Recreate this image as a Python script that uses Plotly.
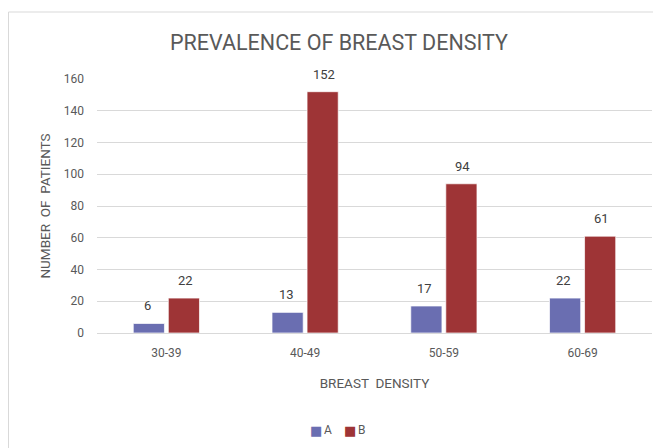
import plotly.graph_objects as go

# Data
categories = ["30-39", "40-49", "50-59", "60-69"]
series_a = [6, 13, 17, 22]
series_b = [22, 152, 94, 61]
series_names = ["A", "B"]
y_ticks = [0, 20, 40, 60, 80, 100, 120, 140, 160]

COLORS = {"A": "#6A6EB1", "B": "#9E3436", "text": "#595959", "grid": "#D9D9D9"}
FONT = "Roboto, Arial, sans-serif"

# the page body has an 8px margin, so the figure is laid out 8px up/left
L, T, R, B = 89, 71, 17, 123
pw, ph = 661 - L - R, 254

fig = go.Figure()
for name, vals in zip(series_names, (series_a, series_b)):
    fig.add_trace(go.Bar(
        x=categories, y=vals, name=name, showlegend=False,
        marker=dict(color=COLORS[name], line=dict(color="rgba(255,255,255,0.7)", width=1)),
    ))

# value labels above the bars
for i, vals in enumerate((series_a, series_b)):
    for cat, v in zip(categories, vals):
        fig.add_annotation(
            x=cat, y=v, text=str(v), showarrow=False,
            xshift=-19 if i == 0 else 19, yshift=8, yanchor="bottom",
            font=dict(size=13, color="#404040", family=FONT),
        )

# compact legend like the original: coloured square followed by the name
leg_y = (T + ph - 422) / ph
for i, n in enumerate(series_names):
    x0 = (308 + 34 * i - L) / pw
    fig.add_annotation(xref="paper", yref="paper", x=x0, y=leg_y, text="■",
                       showarrow=False, xanchor="center", yanchor="middle",
                       font=dict(size=13, color=COLORS[n], family="DejaVu Sans"))
    fig.add_annotation(xref="paper", yref="paper", x=x0, y=leg_y, text=n,
                       showarrow=False, xanchor="left", yanchor="middle", xshift=6,
                       font=dict(size=12, color=COLORS["text"], family=FONT))

# chart area border (top and left edges visible)
fig.add_shape(type="line", xref="paper", yref="paper",
              x0=(0.5 - L) / pw, x1=1.2, y0=(T + ph - 4) / ph, y1=(T + ph - 4) / ph,
              line=dict(color=COLORS["grid"], width=1))
fig.add_shape(type="line", xref="paper", yref="paper",
              x0=(0.5 - L) / pw, x1=(0.5 - L) / pw, y0=(T + ph - 4) / ph, y1=-0.6,
              line=dict(color=COLORS["grid"], width=1))

fig.update_layout(
    width=661, height=448,
    barmode="group", bargap=0.495, bargroupgap=0.11,
    paper_bgcolor="white", plot_bgcolor="white",
    margin=dict(t=T, b=B, l=L, r=R, autoexpand=False),
    font=dict(family=FONT, color=COLORS["text"], size=12),
    title=dict(text="PREVALENCE OF BREAST DENSITY", x=331 / 661, xanchor="center",
               y=1 - 34 / 448, yanchor="middle",
               font=dict(size=21.5, color=COLORS["text"], family=FONT)),
    xaxis=dict(
        title=dict(text="BREAST  DENSITY", standoff=19, font=dict(size=13.5)),
        showgrid=False, showline=True, linecolor=COLORS["grid"], automargin=False,
        ticks="", ticklabelstandoff=9, tickfont=dict(size=12),
    ),
    yaxis=dict(
        title=dict(text="NUMBER  OF  PATIENTS", standoff=10, font=dict(size=13.5)),
        range=[0, 160], tickvals=y_ticks, gridcolor=COLORS["grid"], automargin=False,
        zeroline=False, showline=False, ticks="", ticklabelstandoff=12,
        tickfont=dict(size=12),
    ),
)

fig.write_html("out.html")
